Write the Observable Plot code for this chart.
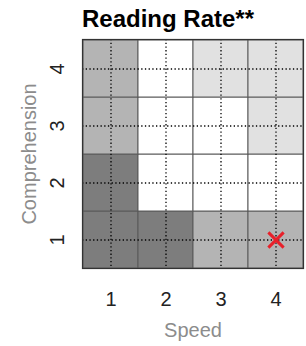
<!DOCTYPE html>
<html>
<head>
<meta charset="utf-8">
<script src="https://cdn.jsdelivr.net/npm/d3@7"></script>
<script src="https://cdn.jsdelivr.net/npm/@observablehq/plot@0.6"></script>
<style>
  html, body { margin: 0; padding: 0; background: #fff; }
  #wrap { position: relative; width: 306px; height: 346px; overflow: hidden; }
  #title { position: absolute; left: 30px; width: 276px; top: 7px; text-align: center;
    font-family: "Liberation Sans", Arial, sans-serif; font-weight: bold; font-size: 24px; line-height: 24px; color: #000; }
  #chart { position: absolute; left: 0; top: 0; }
</style>
</head>
<body>
<div id="wrap">
  <div id="chart"></div>
  <div id="title">Reading Rate**</div>
</div>
<script>
const speeds = [1, 2, 3, 4];
const comprehension = [1, 2, 3, 4];
// shade level per cell (0 = white, 1 = light, 2 = medium, 3 = dark); rows by comprehension 1..4, columns by speed 1..4
const shadeRows = {
  1: [3, 3, 2, 2],
  2: [3, 0, 0, 0],
  3: [2, 0, 0, 1],
  4: [2, 0, 1, 1]
};
const marked = [{speed: 4, comprehension: 1}];
const xLabel = "Speed";
const yLabel = "Comprehension";

const cells = [];
for (const c of comprehension) speeds.forEach((s, i) => cells.push({speed: s, comprehension: c, level: shadeRows[c][i]}));

const font = "'Liberation Sans', Arial, sans-serif";
const chart = Plot.plot({
  width: 306,
  height: 346,
  marginTop: 39,
  marginBottom: 78,
  marginLeft: 82,
  marginRight: 3,
  style: {fontFamily: font, background: "white"},
  x: {type: "band", domain: speeds, padding: 0, axis: null},
  y: {type: "band", domain: comprehension.slice().reverse(), padding: 0, axis: null},
  color: {type: "ordinal", domain: [0, 1, 2, 3], range: ["#ffffff", "#e1e1e1", "#b4b4b4", "#7d7d7d"]},
  marks: [
    Plot.cell(cells, {x: "speed", y: "comprehension", fill: "level", stroke: "#5a5a5a", strokeWidth: 1}),
    Plot.ruleX(speeds, {x: d => d, stroke: "#000", strokeWidth: 1.3, strokeDasharray: "1.3,2.4"}),
    Plot.ruleY(comprehension, {y: d => d, stroke: "#000", strokeWidth: 1.3, strokeDasharray: "1.3,2.4"}),
    Plot.frame({stroke: "#333", strokeWidth: 1.2}),
    Plot.dot(marked, {x: "speed", y: "comprehension", symbol: "times", r: 7, stroke: "#e8202a", strokeWidth: 3}),
    Plot.text(speeds, {x: d => d, text: d => String(d), frameAnchor: "bottom", dy: 37, fontSize: 20, fill: "#222"}),
    Plot.text(comprehension, {y: d => d, text: d => String(d), frameAnchor: "left", dx: -25, rotate: -90, textAnchor: "middle", fontSize: 20, fill: "#222"}),
    Plot.text([xLabel], {text: d => d, frameAnchor: "bottom", dy: 68, fontSize: 20, fill: "#8c8c8c"}),
    Plot.text([yLabel], {text: d => d, frameAnchor: "left", dx: -53, rotate: -90, textAnchor: "middle", fontSize: 20, fill: "#8c8c8c"})
  ]
});
document.getElementById("chart").appendChild(chart);
</script>
</body>
</html>
